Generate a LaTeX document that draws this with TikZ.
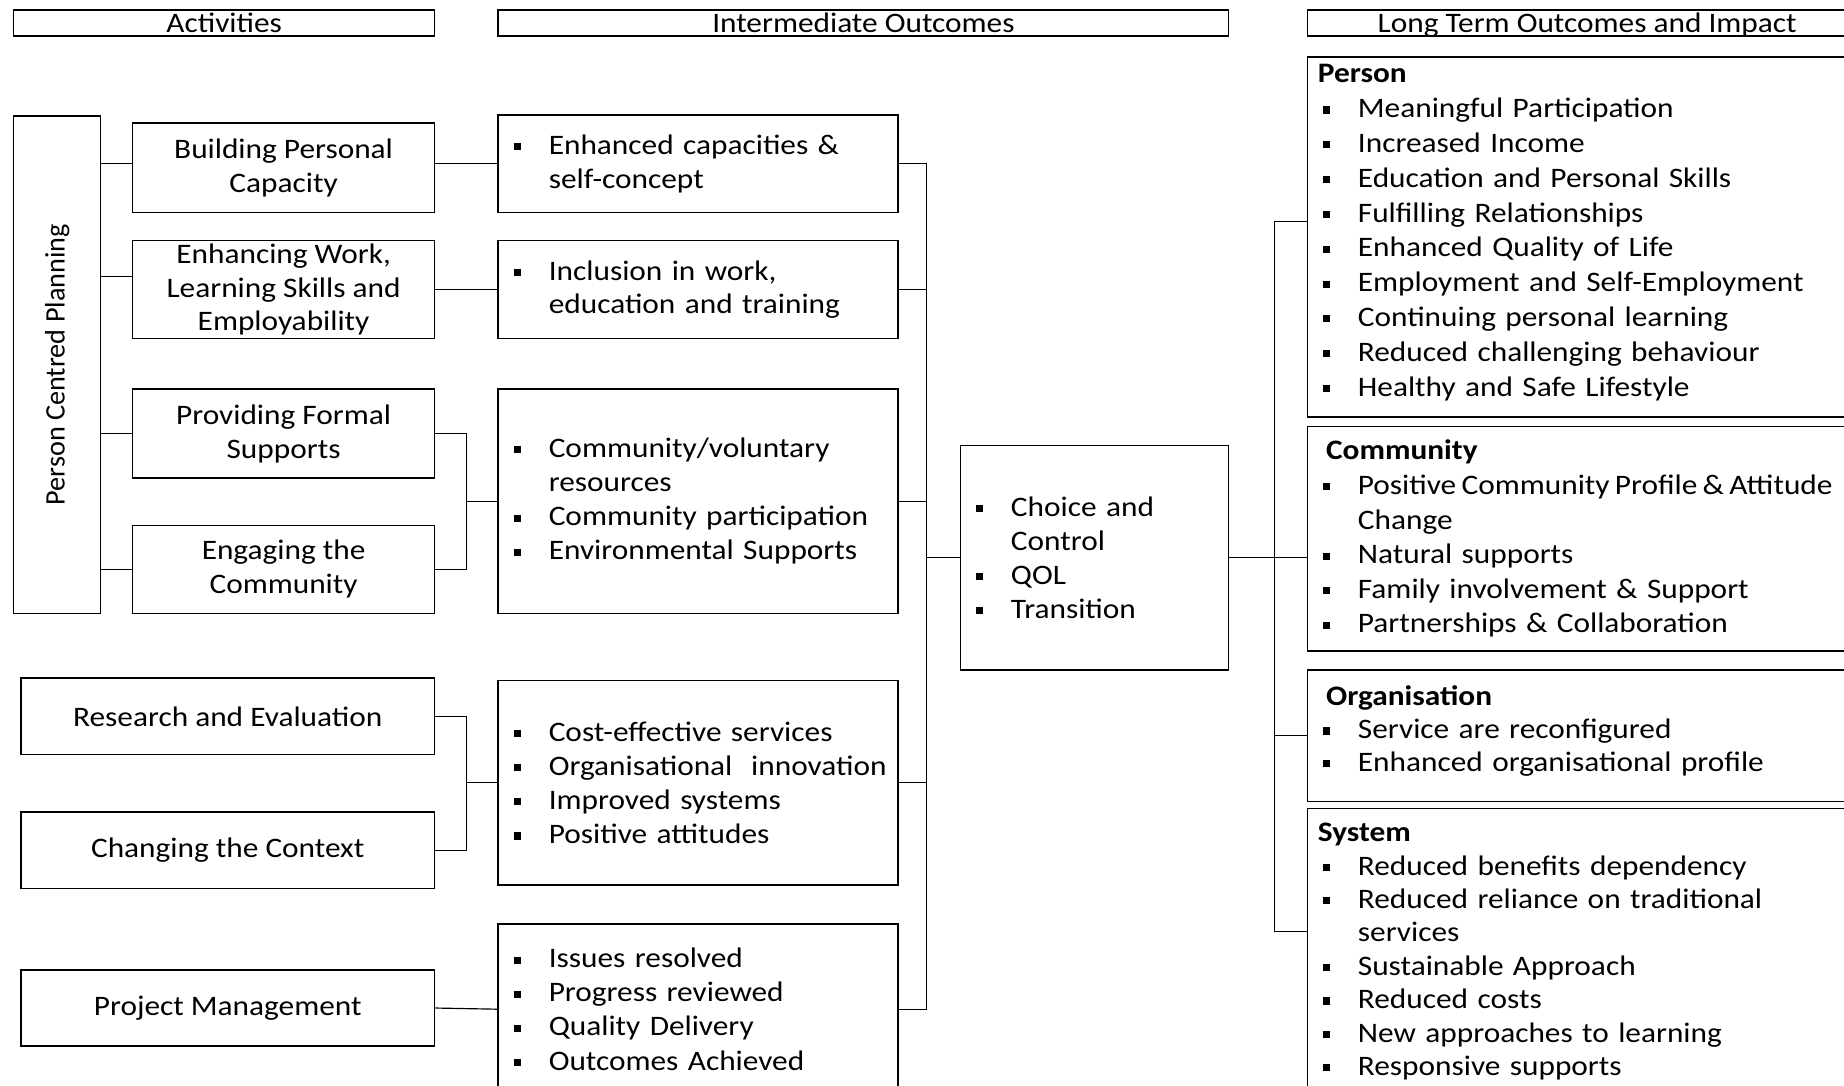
\documentclass[tikz,border=0pt]{standalone}
\usepackage{fontspec}
\setmainfont{Carlito}[FakeStretch=1.11]
\newfontfamily\uprightfont{Carlito}
\usetikzlibrary{positioning, calc}

% square bullet and hanging indent for the lists
\newcommand{\bul}{\makebox[34pt][l]{\hspace{4.5pt}\rule[3.5pt]{6pt}{6pt}}}
\newcommand{\ind}{\hspace*{34pt}}
\newcommand{\fs}[1]{\fontsize{24}{#1}\selectfont}

\begin{document}
\begin{tikzpicture}[x=1pt, y=-1pt, font=\fs{29}]
    \tikzset{box/.style={draw, line width=1.3pt, inner sep=0pt, anchor=north west},
             head/.style={box, minimum height=22, text height=19pt, text depth=3pt},
             act/.style={box, align=center},
             lst/.style={box, align=left, inner xsep=9pt},
             link/.style={line width=1pt}}
    \useasboundingbox (0,0) rectangle (1568,923);

    % column headings
    \node[head, minimum width=358] (h_act) at (11,8) {Activities};
    \node[head, minimum width=621] (h_int) at (423,8) {Intermediate Outcomes};
    \node[head, minimum width=476] (h_lto) at (1111,8) {Long Term Outcomes and Impact};

    % activities
    \node[box, minimum width=74, minimum height=423] (pcp) at (11,98) {\rotatebox{90}{\uprightfont Person Centred Planning}};
    \node[act, minimum width=257, minimum height=76] (bpc) at (112,104) {\rule{0pt}{4pt}Building Personal\\Capacity};
    \node[act, minimum width=257, minimum height=83, font=\fs{28.5}] (ews) at (112,204) {\rule{0pt}{4pt}Enhancing Work,\\Learning Skills and\\Employability};
    \node[act, minimum width=257, minimum height=76] (pfs) at (112,330) {\rule{0pt}{4pt}Providing Formal\\Supports};
    \node[act, minimum width=257, minimum height=75] (etc) at (112,446) {\rule{0pt}{4pt}Engaging the\\Community};
    \node[act, minimum width=352, minimum height=65] (rev) at (17,576) {Research and Evaluation};
    \node[act, minimum width=352, minimum height=65] (cct) at (17,690) {Changing the Context};
    \node[act, minimum width=352, minimum height=65] (pjm) at (17,824) {Project Management};

    % intermediate outcomes
    \node[lst, text width=322, minimum height=83] (enh) at (423,97) {\bul Enhanced capacities \&\\\ind self-concept};
    \node[lst, text width=322, minimum height=83, font=\fs{28}] (inc) at (423,204) {\bul Inclusion in work,\\\ind education and training};
    \node[lst, text width=322, minimum height=191] (cmm) at (423,330) {\bul Community/voluntary\\\ind resources\\\bul Community participation\\\bul Environmental Supports};
    \node[lst, text width=322, minimum height=174] (org) at (423,578) {\bul Cost-effective services\\\bul Organisational\ \ innovation\\\bul Improved systems\\\bul Positive attitudes};
    \node[lst, text width=322, minimum height=145] (iss) at (423,785) {\bul Issues resolved\\\bul Progress reviewed\\\bul Quality Delivery\\\bul Outcomes Achieved};
    \node[lst, text width=210, minimum height=191] (cho) at (816,378) {\bul Choice and\\\ind Control\\\bul QOL\\\bul Transition};

    % long term outcomes
    \node[lst, text width=458, minimum height=306, font=\fs{29.6}] (lp) at (1111,48) {\textbf{Person}\\\bul Meaningful Participation\\\bul Increased Income\\\bul Education and Personal Skills\\\bul Fulfilling Relationships\\\bul Enhanced Quality of Life\\\bul Employment and Self-Employment\\\bul Continuing personal learning\\\bul Reduced challenging behaviour\\\bul Healthy and Safe Lifestyle\\[-18pt]\mbox{}};
    \node[lst, text width=458, minimum height=191, font=\fs{29.4}] (lc) at (1111,362) {\hspace*{7pt}\textbf{Community}\\\bul {\spaceskip=4.5pt Positive Community Profile \& Attitude}\\\ind Change\\\bul Natural supports\\\bul Family involvement \& Support\\\bul Partnerships \& Collaboration};
    \node[lst, text width=458, minimum height=112, font=\fs{28}] (lo) at (1111,569) {\hspace*{7pt}\textbf{Organisation}\\\bul Service are reconfigured\\\bul Enhanced organisational profile\\[-16pt]\mbox{}};
    \node[lst, text width=458, minimum height=243, font=\fs{28.4}] (ls) at (1111,687) {\textbf{System}\\\bul Reduced benefits dependency\\\bul Reduced reliance on traditional\\\ind services\\\bul Sustainable Approach\\\bul Reduced costs\\\bul New approaches to learning\\\bul Responsive supports};

    % x positions of the vertical joins
    \coordinate (lb) at (397,0);
    \coordinate (mt) at (788,0);
    \coordinate (rt) at (1084,0);

    \draw[link] (pcp.east |- enh.west) -- (bpc.west |- enh.west);
    \draw[link] (bpc.east |- enh.west) -- (enh.west);
    \draw[link] ([yshift=11pt]ews.west -| pcp.east) -- ([yshift=11pt]ews.west);
    \draw[link] (ews.east |- inc.west) -- (inc.west);
    \draw[link] (pcp.east |- pfs.west) -- (pfs.west);
    \draw[link] (pcp.east |- etc.west) -- (etc.west);
    \draw[link] (pfs.east) -| (lb |- etc.east) -- (etc.east);
    \draw[link] (lb |- cmm.west) -- (cmm.west);
    \draw[link] (rev.east) -| (lb |- cct.east) -- (cct.east);
    \draw[link] (lb |- org.west) -- (org.west);
    \draw[link] (pjm.east) -- (iss.west);

    \draw[link] (enh.east) -| (mt |- iss.east) -- (iss.east);
    \draw[link] (inc.east) -- (inc.east -| mt);
    \draw[link] (cmm.east) -- (cmm.east -| mt);
    \draw[link] (org.east) -- (org.east -| mt);
    \draw[link] (mt |- cho.west) -- (cho.west);

    \draw[link] (cho.east) -- (cho.east -| lc.west);
    \draw[link] ([yshift=13pt]lp.west) -- ([yshift=13pt]lp.west -| rt) -- ([yshift=17pt]ls.west -| rt) -- ([yshift=17pt]ls.west);
    \draw[link] (rt |- lo.west) -- (lo.west);
\end{tikzpicture}
\end{document}
